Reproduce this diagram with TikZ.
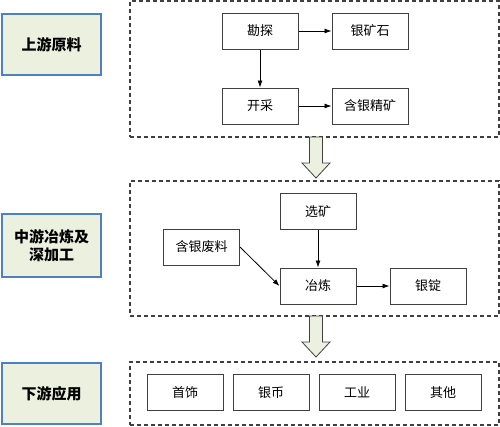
\documentclass[tikz,border=0pt]{standalone}
\usepackage{fontspec}
\setmainfont{Noto Sans CJK SC}
\usetikzlibrary{arrows.meta}
\definecolor{labelfill}{RGB}{236,240,222}
\definecolor{labelline}{RGB}{79,129,189}
\definecolor{boxline}{RGB}{64,64,64}
\tikzset{
  stagebox/.style={draw=labelline,fill=labelfill,line width=2pt,minimum width=99pt,minimum height=61pt,font=\fontsize{15}{18}\selectfont\bfseries,align=center,inner sep=0pt},
  groupbox/.style={draw=boxline,line width=1.3pt,dash pattern=on 4pt off 3pt,minimum width=369pt,inner sep=0pt},
  stepbox/.style={draw=boxline,line width=1pt,minimum width=76pt,minimum height=36pt,font=\fontsize{13}{15}\selectfont,inner sep=0pt},
  flow/.style={line width=0.8pt,-{Latex[length=7pt,width=5pt]}},
  bigarrow/.style={draw=boxline,fill=labelfill,line width=0.8pt}
}
\begin{document}
\begin{tikzpicture}[x=1pt,y=-1pt]
\useasboundingbox (0,0) rectangle (500,426);
% stage labels
\node[stagebox] (upstream) at (51.5,44.5) {上游原料};
\node[stagebox,minimum height=63pt] (midstream) at (51.5,245.5) {中游冶炼及\\深加工};
\node[stagebox] (downstream) at (51.5,393.5) {下游应用};

% dashed groups
\node[groupbox,minimum height=136pt] (upgroup) at (314.5,69) {};
\node[groupbox,minimum height=135pt] (midgroup) at (314.5,248.5) {};
\node[groupbox,minimum height=63pt] (downgroup) at (314.5,393.5) {};

% upstream
\node[stepbox] (explore) at (260,31) {勘探};
\node[stepbox] (ore) at (370,31) {银矿石};
\node[stepbox] (mining) at (260,106) {开采};
\node[stepbox] (concentrate) at (370,106) {含银精矿};
\draw[flow] (explore) -- (ore);
\draw[flow] (explore) -- (mining);
\draw[flow] (mining) -- (concentrate);

% midstream
\node[stepbox] (dressing) at (318,211.5) {选矿};
\node[stepbox] (smelting) at (318,286) {冶炼};
\node[stepbox] (ingot) at (428,286) {银锭};
\node[stepbox] (scrap) at (201.5,247) {含银废料};
\draw[flow] (dressing) -- (smelting);
\draw[flow] (smelting) -- (ingot);
\draw[flow] (scrap.east) -- (smelting.west);

% downstream
\node[stepbox] (jewelry) at (185,392.5) {首饰};
\node[stepbox] (coin) at (271,392.5) {银币};
\node[stepbox] (industry) at (357,392.5) {工业};
\node[stepbox] (other) at (443,392.5) {其他};

% block arrows
\draw[bigarrow] (309.5,137) -- (322.5,137) -- (322.5,163) -- (330,163) -- (316,178) -- (302,163) -- (309.5,163) -- cycle;
\draw[bigarrow] (309.5,316) -- (322.5,316) -- (322.5,342) -- (330,342) -- (316,357) -- (302,342) -- (309.5,342) -- cycle;
\end{tikzpicture}
\end{document}
